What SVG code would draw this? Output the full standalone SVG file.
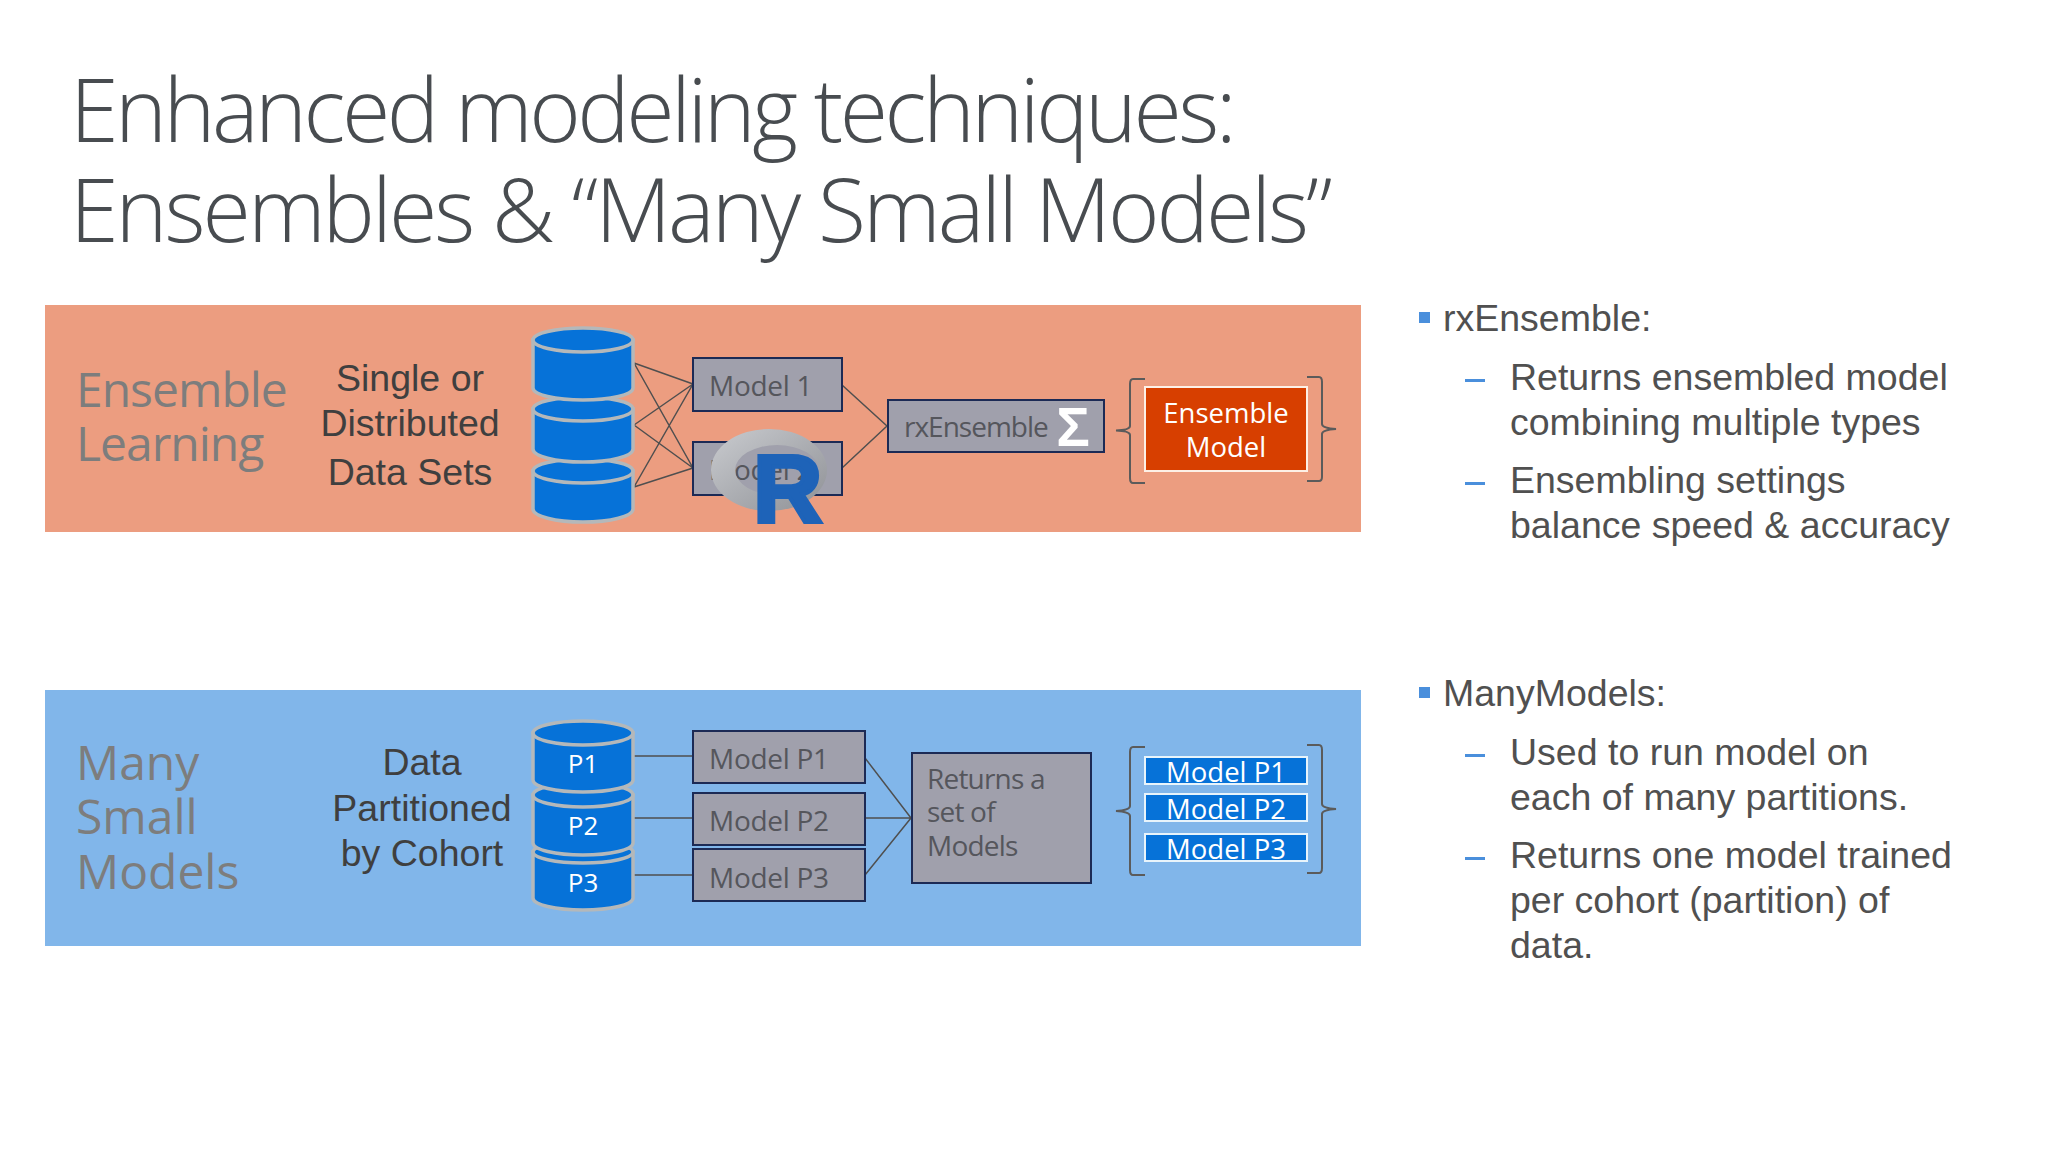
<svg xmlns="http://www.w3.org/2000/svg" width="2048" height="1152" viewBox="0 0 2048 1152">
<style>
text{font-family:"Open Sans","Noto Sans",sans-serif}
.title{font-size:88px;font-weight:300;fill:#484c50}
.head{font-size:48px;fill:#7d7d7d}
.sub{font-family:"Liberation Sans",Arial,sans-serif;font-size:37.500px;fill:#3f3f3f;text-anchor:middle}
.body{font-family:"Liberation Sans",Arial,sans-serif;font-size:37.500px;fill:#505050}
.mod{fill:#a0a0ac;stroke:#1c2a55;stroke-width:2}
.mtx{font-size:28px;fill:#55565c;letter-spacing:-.3px}
.ln{fill:none;stroke:#4f4f4f;stroke-width:1.500}
.br{fill:none;stroke:#5b5b5b;stroke-width:2}
.cyl{fill:#0672d8;stroke:#b4b8ba;stroke-width:3.500}
.wt{font-size:26px;fill:#fff;text-anchor:middle}
.blue{fill:#0672d8;stroke:#e8f4fb;stroke-width:2}
.dash{fill:#4a8fdc}
.wb{font-size:27.500px;fill:#fff;text-anchor:middle}
</style>
<defs>
<linearGradient id="ring" x1="0" y1="0" x2="1" y2="1">
<stop offset="0" stop-color="#c9cbcf"/><stop offset="1" stop-color="#8f9196"/>
</linearGradient>
</defs>
<rect width="2048" height="1152" fill="#fff"/>
<g id="title">
<text class="title" x="70" y="142" style="letter-spacing:-3.500px">Enhanced modeling techniques:</text>
<text class="title" x="70" y="242" style="letter-spacing:-3px">Ensembles &amp; “Many Small Models”</text>
</g>
<g id="band-ensemble">
<rect x="45" y="305" width="1316" height="227" fill="#ec9d80"/>
<text class="head" x="76" y="407" style="letter-spacing:-1px">Ensemble</text>
<text class="head" x="76" y="461" style="letter-spacing:-1px">Learning</text>
<text class="sub" x="410" y="391">Single or</text>
<text class="sub" x="410" y="436">Distributed</text>
<text class="sub" x="410" y="485">Data Sets</text>
</g>
<g id="band-many">
<rect x="45" y="690" width="1316" height="256" fill="#81b6ea"/>
<text class="head" x="76" y="780">Many</text>
<text class="head" x="76" y="834">Small</text>
<text class="head" x="76" y="889">Models</text>
<text class="sub" x="422" y="775">Data</text>
<text class="sub" x="422" y="821">Partitioned</text>
<text class="sub" x="422" y="866">by Cohort</text>
</g>
<g id="connectors">
<path class="ln" d="M634 363L693 384M634 363L693 468M634 425L693 384M634 425L693 468M634 487L693 384M634 487L693 468M842 385L887 426M842 468L887 426"/>
<path class="ln" d="M634 756H693M634 818H693M634 875H693M865 758L911 818M865 818H911M865 875L911 818"/>
</g>
<g id="db-ensemble">
<path class="cyl" d="M533 471V509A50 13 0 0 0 633 509V471Z"/>
<ellipse class="cyl" cx="583" cy="471" rx="50" ry="12"/>
<path class="cyl" d="M533 409V449A50 13 0 0 0 633 449V409Z"/>
<ellipse class="cyl" cx="583" cy="409" rx="50" ry="12"/>
<path class="cyl" d="M533 340V388A50 12 0 0 0 633 388V340Z"/>
<ellipse class="cyl" cx="583" cy="340" rx="50" ry="12"/>
</g>
<g id="db-many">
<path class="cyl" d="M533 852V898A50 12 0 0 0 633 898V852Z"/>
<ellipse class="cyl" cx="583" cy="852" rx="50" ry="11"/>
<path class="cyl" d="M533 795V843A50 12 0 0 0 633 843V795Z"/>
<ellipse class="cyl" cx="583" cy="795" rx="50" ry="12"/>
<path class="cyl" d="M533 733V780A50 12 0 0 0 633 780V733Z"/>
<ellipse class="cyl" cx="583" cy="733" rx="50" ry="12"/>
<text class="wt" x="583" y="773">P1</text>
<text class="wt" x="583" y="835">P2</text>
<text class="wt" x="583" y="892">P3</text>
</g>
<g id="model1"><rect class="mod" x="693" y="358" width="149" height="53"/><text class="mtx" x="709" y="396">Model 1</text></g>
<g id="model2"><rect class="mod" x="693" y="442" width="149" height="53"/><text class="mtx" x="709" y="480">Model 2</text></g>
<g id="r-logo">
<path fill="url(#ring)" fill-rule="evenodd" d="M711 470A58 41 0 1 0 827 470A58 41 0 1 0 711 470ZM735 470A42 25 0 1 1 819 470A42 25 0 1 1 735 470Z"/>
<text x="753" y="522" style="font-family:'Liberation Sans',Arial,sans-serif;font-weight:bold;font-size:96px;fill:#1e63b8;stroke:#1e63b8;stroke-width:4">R</text>
</g>
<g id="rxensemble">
<rect class="mod" x="888" y="400" width="216" height="52"/>
<text class="mtx" x="904" y="437" style="letter-spacing:-1px">rxEnsemble</text>
<text x="1073" y="446" style="font-family:'Liberation Sans',Arial,sans-serif;font-weight:bold;font-size:56px;fill:#fff;text-anchor:middle">Σ</text>
</g>
<g id="ensemble-model">
<path class="br" d="M1145 379H1133Q1130 379 1130 384V426Q1130 430 1116 430.500Q1130 431 1130 435V478Q1130 483 1133 483H1145"/>
<path class="br" d="M1307 377H1319Q1322 377 1322 382V424Q1322 428 1336 429Q1322 430 1322 434V477Q1322 481 1319 481H1307"/>
<rect x="1145" y="387" width="162" height="84" fill="#d73f00" stroke="#fdf0e6" stroke-width="2"/>
<text class="wb" x="1226" y="423">Ensemble</text>
<text class="wb" x="1226" y="457">Model</text>
</g>
<g id="modelp1"><rect class="mod" x="693" y="731" width="172" height="52"/><text class="mtx" x="709" y="769">Model P1</text></g>
<g id="modelp2"><rect class="mod" x="693" y="793" width="172" height="52"/><text class="mtx" x="709" y="831">Model P2</text></g>
<g id="modelp3"><rect class="mod" x="693" y="849" width="172" height="52"/><text class="mtx" x="709" y="888">Model P3</text></g>
<g id="returns">
<rect class="mod" x="912" y="753" width="179" height="130"/>
<text class="mtx" x="927" y="789" style="letter-spacing:-.8px">Returns a</text>
<text class="mtx" x="927" y="822" style="letter-spacing:-.8px">set of</text>
<text class="mtx" x="927" y="856" style="letter-spacing:-.8px">Models</text>
</g>
<g id="model-set">
<path class="br" d="M1145 747H1133Q1130 747 1130 752V806Q1130 810 1116 811Q1130 812 1130 816V870Q1130 875 1133 875H1145"/>
<path class="br" d="M1307 745H1319Q1322 745 1322 750V804Q1322 808 1336 809Q1322 810 1322 814V868Q1322 873 1319 873H1307"/>
<rect class="blue" x="1145" y="757" width="162" height="27"/>
<rect class="blue" x="1145" y="794" width="162" height="27"/>
<rect class="blue" x="1145" y="834" width="162" height="27"/>
<text class="wb" x="1226" y="782">Model P1</text>
<text class="wb" x="1226" y="819">Model P2</text>
<text class="wb" x="1226" y="859">Model P3</text>
</g>
<g id="bullets-1">
<rect class="dash" x="1419" y="312" width="11" height="11"/>
<text class="body" x="1443" y="331">rxEnsemble:</text>
<rect class="dash" x="1465" y="379" width="20" height="3"/>
<text class="body" x="1510" y="390">Returns ensembled model</text>
<text class="body" x="1510" y="435">combining multiple types</text>
<rect class="dash" x="1465" y="482" width="20" height="3"/>
<text class="body" x="1510" y="493">Ensembling settings</text>
<text class="body" x="1510" y="538">balance speed &amp; accuracy</text>
</g>
<g id="bullets-2">
<rect class="dash" x="1419" y="687" width="11" height="11"/>
<text class="body" x="1443" y="706">ManyModels:</text>
<rect class="dash" x="1465" y="754" width="20" height="3"/>
<text class="body" x="1510" y="765">Used to run model on</text>
<text class="body" x="1510" y="810">each of many partitions.</text>
<rect class="dash" x="1465" y="857" width="20" height="3"/>
<text class="body" x="1510" y="868">Returns one model trained</text>
<text class="body" x="1510" y="913">per cohort (partition) of</text>
<text class="body" x="1510" y="958">data.</text>
</g>
</svg>
